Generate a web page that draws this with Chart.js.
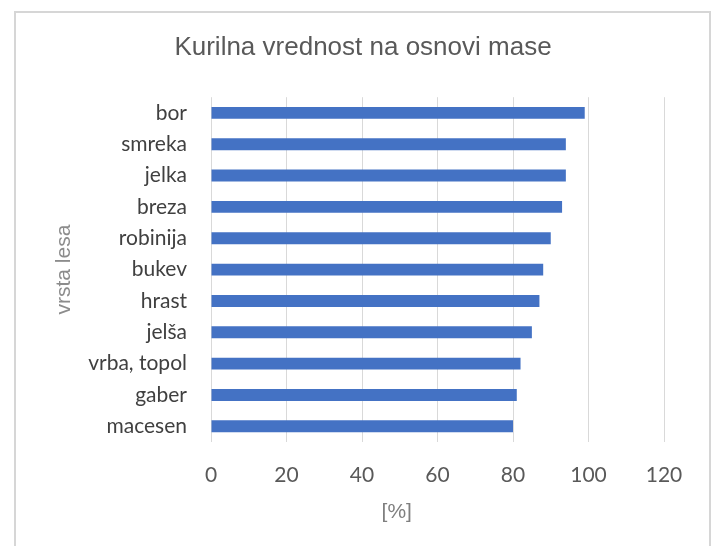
<!DOCTYPE html>
<html>
<head>
<meta charset="utf-8">
<script src="https://cdn.jsdelivr.net/npm/chart.js@4"></script>
<style>
  html, body { margin: 0; padding: 0; background: #fff; }
  #wrap { width: 718px; height: 546px; }
</style>
</head>
<body>
<div id="wrap"><canvas id="kurilna" width="718" height="546"></canvas></div>
<script>
const vrste = ['bor', 'smreka', 'jelka', 'breza', 'robinija', 'bukev', 'hrast', 'jelša', 'vrba, topol', 'gaber', 'macesen'];
const vrednosti = [99, 94, 94, 93, 90, 88, 87, 85, 82, 81, 80];
const xTicks = [0, 20, 40, 60, 80, 100, 120];
const xNaslov = '[%]';

// light frame around the chart, like the Excel chart border
const frame = {
    id: 'frame',
    beforeDraw(chart) {
        const ctx = chart.ctx;
        ctx.save();
        ctx.fillStyle = '#fff';
        ctx.fillRect(0, 0, chart.width, chart.height);
        ctx.strokeStyle = '#d6d6d6';
        ctx.lineWidth = 2;
        ctx.strokeRect(15, 12, 695, 560);
        ctx.restore();
    }
};

// Excel puts the x axis title a bit left of the plot centre
const xTitle = {
    id: 'xTitle',
    afterDraw(chart) {
        const ctx = chart.ctx;
        const area = chart.chartArea;
        ctx.save();
        ctx.font = '21px "Liberation Sans"';
        ctx.fillStyle = '#7f7f7f';
        ctx.textAlign = 'center';
        ctx.textBaseline = 'middle';
        ctx.fillText(xNaslov, area.left + (area.right - area.left) * 0.41, area.bottom + 70);
        ctx.restore();
    }
};

let chartCanvas = document.getElementById('kurilna');
let myChart = new Chart(chartCanvas, {
    type: 'bar',
    data: {
        labels: vrste,
        datasets: [{
            label: 'Kurilna vrednost',
            data: vrednosti,
            backgroundColor: '#4472C4',
            categoryPercentage: 1,
            barPercentage: 0.38
        }]
    },
    plugins: [frame, xTitle],
    options: {
        indexAxis: 'y',
        responsive: false,
        animation: false,
        // left padding chosen so the chart title lands where Excel had it
        layout: { padding: { top: 32, left: 62, right: 54, bottom: 0 } },
        plugins: {
            legend: { display: false },
            tooltip: { enabled: false },
            title: {
                display: true,
                text: 'Kurilna vrednost na osnovi mase',
                color: '#595959',
                font: { family: 'Liberation Sans', size: 26, weight: 'normal' },
                padding: { top: 0, bottom: 34 }
            }
        },
        scales: {
            x: {
                min: 0,
                max: 120,
                afterBuildTicks: (scale) => {
                    scale.ticks = xTicks.map(v => ({ value: v }));
                },
                afterFit: (scale) => { scale.height = 104; },
                grid: { color: '#d9d9d9', drawTicks: false },
                border: { display: false },
                ticks: {
                    padding: 21,
                    color: '#595959',
                    font: { family: 'Lato', size: 21 }
                }
            },
            y: {
                afterFit: (scale) => { scale.width = 149; },
                grid: { display: false, drawTicks: false },
                border: { display: false },
                ticks: {
                    autoSkip: false,
                    padding: 24,
                    color: '#404040',
                    font: { family: 'Lato', size: 21 }
                },
                title: {
                    display: true,
                    text: 'vrsta lesa',
                    color: '#8c8c8c',
                    font: { family: 'Liberation Sans', size: 21 },
                    padding: { top: -10, bottom: 0 }
                }
            }
        }
    }
});
</script>
</body>
</html>
